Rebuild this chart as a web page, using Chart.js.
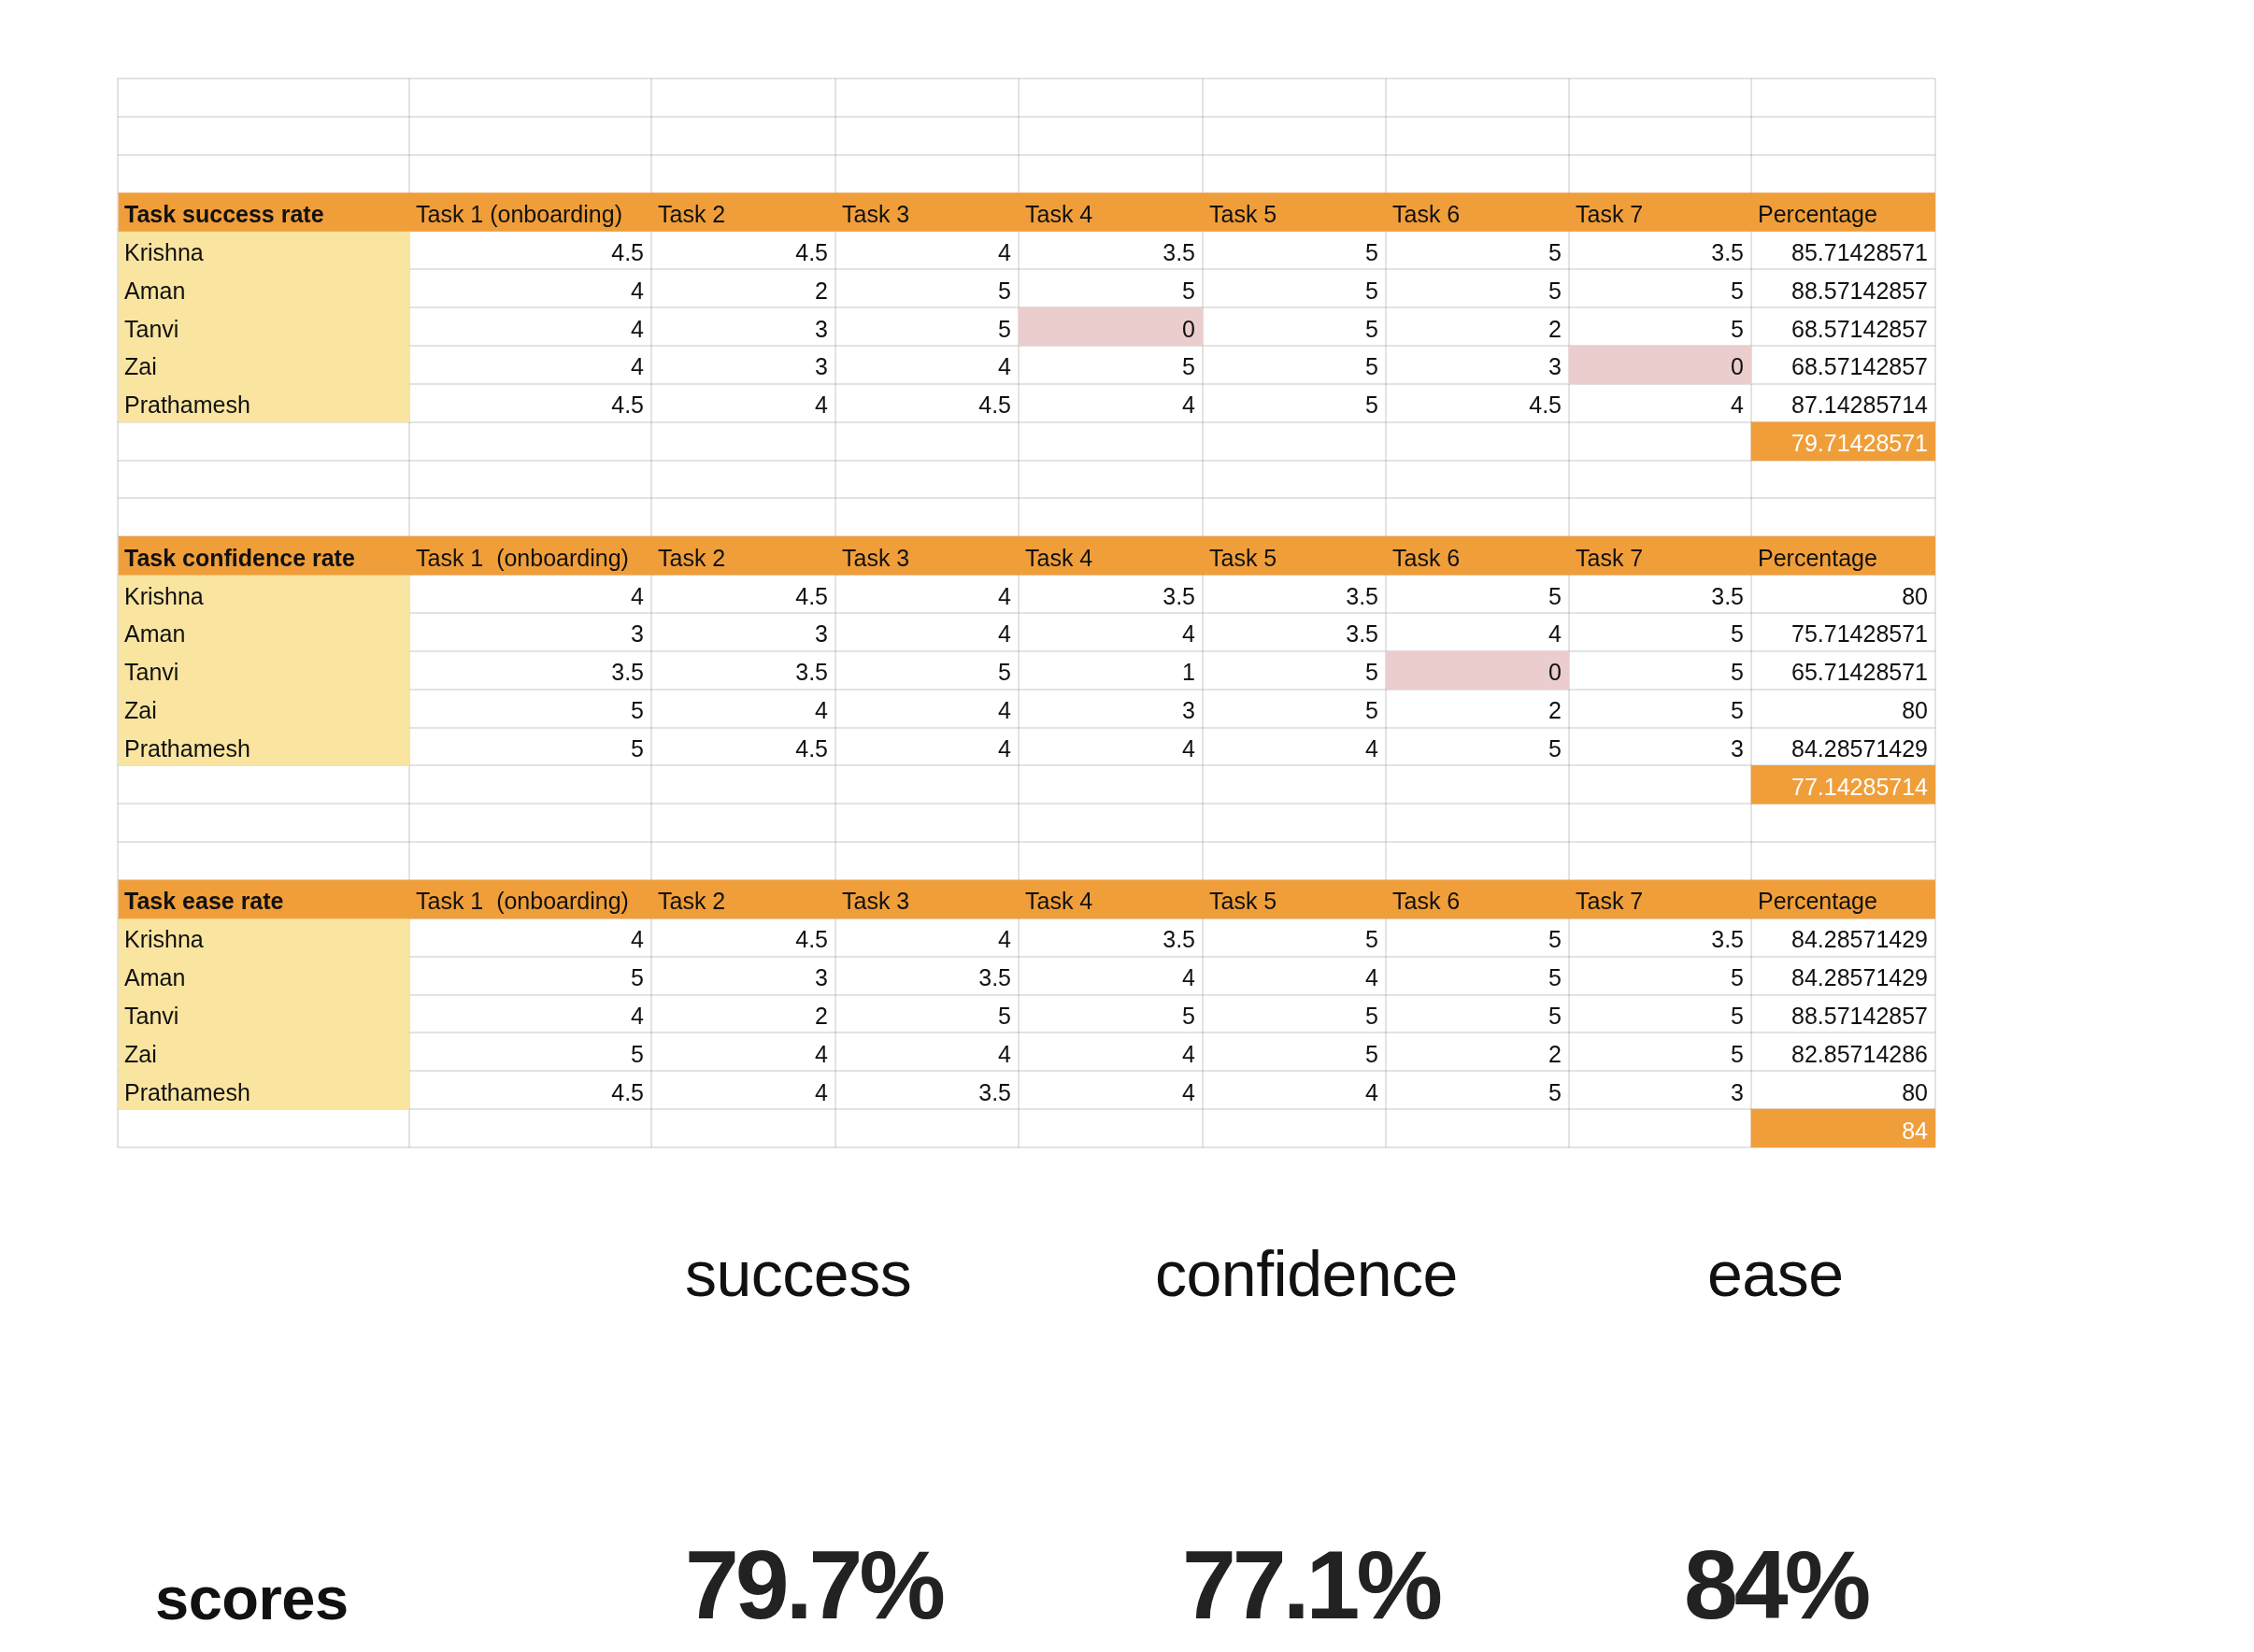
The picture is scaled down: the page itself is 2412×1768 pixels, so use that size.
<!DOCTYPE html>
<html>
<head>
<meta charset="utf-8">
<title>Task rates</title>
<script src="https://cdn.jsdelivr.net/npm/chart.js@4.4.1/dist/chart.umd.min.js"></script>
<style>
  html, body { margin: 0; padding: 0; background: #fff; }
  #wrap { width: 2412px; height: 1768px; position: relative; }
</style>
</head>
<body>
<div id="wrap"><canvas id="chart"></canvas></div>
<script>
// values
var participants = ['Krishna', 'Aman', 'Tanvi', 'Zai', 'Prathamesh'];
var tableTitles = ['Task success rate', 'Task confidence rate', 'Task ease rate'];
var successTaskLabels = ['Task 1 (onboarding)', 'Task 2', 'Task 3', 'Task 4', 'Task 5', 'Task 6', 'Task 7'];
var otherTaskLabels = ['Task 1  (onboarding)', 'Task 2', 'Task 3', 'Task 4', 'Task 5', 'Task 6', 'Task 7'];
var lastHeader = 'Percentage';

var successScores = [
  [4.5, 4.5, 4, 3.5, 5, 5, 3.5],
  [4, 2, 5, 5, 5, 5, 5],
  [4, 3, 5, 0, 5, 2, 5],
  [4, 3, 4, 5, 5, 3, 0],
  [4.5, 4, 4.5, 4, 5, 4.5, 4]
];
var successPct = [85.71428571, 88.57142857, 68.57142857, 68.57142857, 87.14285714];
var successAvg = 79.71428571;

var confidenceScores = [
  [4, 4.5, 4, 3.5, 3.5, 5, 3.5],
  [3, 3, 4, 4, 3.5, 4, 5],
  [3.5, 3.5, 5, 1, 5, 0, 5],
  [5, 4, 4, 3, 5, 2, 5],
  [5, 4.5, 4, 4, 4, 5, 3]
];
var confidencePct = [80, 75.71428571, 65.71428571, 80, 84.28571429];
var confidenceAvg = 77.14285714;

var easeScores = [
  [4, 4.5, 4, 3.5, 5, 5, 3.5],
  [5, 3, 3.5, 4, 4, 5, 5],
  [4, 2, 5, 5, 5, 5, 5],
  [5, 4, 4, 4, 5, 2, 5],
  [4.5, 4, 3.5, 4, 4, 5, 3]
];
var easePct = [84.28571429, 84.28571429, 88.57142857, 82.85714286, 80];
var easeAvg = 84;

var scoreLabels = ['success', 'confidence', 'ease'];
var scoreValues = ['79.7%', '77.1%', '84%'];
var scoresTitle = 'scores';

// layout of the sheet (x units = px from table left)
var colEdges = [0, 312, 571, 768, 964, 1161, 1357, 1553, 1748, 1945];
var blankBefore = [3, 2, 2];
var ORANGE = '#F09E3A', YELLOW = '#F9E4A0', PINK = '#EBCDCD';
var CELL_FONT = '"Liberation Sans", Arial, sans-serif';

var tables = [
  { title: tableTitles[0], heads: successTaskLabels, scores: successScores, pct: successPct, avg: successAvg },
  { title: tableTitles[1], heads: otherTaskLabels, scores: confidenceScores, pct: confidencePct, avg: confidenceAvg },
  { title: tableTitles[2], heads: otherTaskLabels, scores: easeScores, pct: easePct, avg: easeAvg }
];

// one entry per sheet row
var rows = [];
tables.forEach(function (t, ti) {
  for (var b = 0; b < blankBefore[ti]; b++) rows.push({ type: 'blank' });
  rows.push({ type: 'head', t: t });
  for (var p = 0; p < participants.length; p++) rows.push({ type: 'data', t: t, p: p });
  rows.push({ type: 'avg', t: t });
});
var rowKeys = rows.map(function (r, i) { return 'r' + i; });
var lastEdge = colEdges[colEdges.length - 1];

var headerFill = rows.map(function (r) { return r.type === 'head' ? [0, lastEdge] : null; });
var nameFill = rows.map(function (r) { return r.type === 'data' ? [0, colEdges[1]] : null; });
var avgFill = rows.map(function (r) { return r.type === 'avg' ? [colEdges[8], colEdges[9]] : null; });

var datasets = [
  { data: headerFill, backgroundColor: ORANGE },
  { data: nameFill, backgroundColor: YELLOW },
  { data: avgFill, backgroundColor: ORANGE }
];
// zero scores get a pink cell, one dataset per task column
for (var c = 0; c < 7; c++) {
  (function (c) {
    datasets.push({
      data: rows.map(function (r) {
        return r.type === 'data' && r.t.scores[r.p][c] === 0 ? [colEdges[c + 1], colEdges[c + 2]] : null;
      }),
      backgroundColor: PINK
    });
  })(c);
}
datasets.forEach(function (d) {
  d.barPercentage = 1;
  d.categoryPercentage = 1;
  d.grouped = false;
  d.borderWidth = 0;
});

function txt(ctx, s, x, y, align, font, color, spacing) {
  ctx.font = font;
  ctx.textAlign = align;
  ctx.fillStyle = color;
  ctx.letterSpacing = spacing || '0px';
  ctx.fillText(s, x, y);
}

var cellText = {
  id: 'cellText',
  afterDraw: function (chart) {
    var ctx = chart.ctx;
    var xs = chart.scales.x, ys = chart.scales.y;
    var fs = 25;
    ctx.save();
    ctx.textBaseline = 'alphabetic';
    rows.forEach(function (r, i) {
      var y = ys.getPixelForValue(i) + fs * 0.36 + 2;
      function left(col, s, bold, color) {
        txt(ctx, s, xs.getPixelForValue(colEdges[col]) + 7, y, 'left', (bold ? 'bold ' : '') + fs + 'px ' + CELL_FONT, color || '#111');
      }
      function right(col, s, color) {
        txt(ctx, s, xs.getPixelForValue(colEdges[col + 1]) - 8, y, 'right', fs + 'px ' + CELL_FONT, color || '#111');
      }
      if (r.type === 'head') {
        left(0, r.t.title, true);
        r.t.heads.forEach(function (h, k) { left(k + 1, h, false); });
        left(8, lastHeader, false);
      } else if (r.type === 'data') {
        left(0, participants[r.p], false);
        r.t.scores[r.p].forEach(function (v, k) { right(k + 1, String(v)); });
        right(8, String(r.t.pct[r.p]));
      } else if (r.type === 'avg') {
        right(8, String(r.t.avg), '#fff');
      }
    });

    // summary under the sheet
    var labelX = [733, 1236, 1827];
    var valueX = [733, 1265, 1802];
    scoreLabels.forEach(function (s, k) {
      txt(ctx, s, labelX[k], 1387, 'left', '68px ' + CELL_FONT, '#111', '-0.5px');
      txt(ctx, scoreValues[k], valueX[k], 1732, 'left', 'bold 104px ' + CELL_FONT, '#222', '-4px');
    });
    txt(ctx, scoresTitle, 166, 1733, 'left', 'bold 65px ' + CELL_FONT, '#111', '-0.5px');
    ctx.restore();
  }
};

var gridLine = { color: 'rgba(0,0,0,0.11)', lineWidth: 2, drawTicks: false, tickLength: 0 };

new Chart(document.getElementById('chart'), {
  type: 'bar',
  data: { labels: rowKeys, datasets: datasets },
  options: {
    indexAxis: 'y',
    responsive: true,
    maintainAspectRatio: false,
    animation: false,
    events: [],
    layout: { padding: { left: 126, top: 84, right: 341, bottom: 540 } },
    plugins: { legend: { display: false }, tooltip: { enabled: false } },
    scales: {
      x: {
        type: 'linear',
        min: 0,
        max: lastEdge,
        z: 1,
        grid: gridLine,
        border: { display: false },
        ticks: { display: false },
        afterBuildTicks: function (axis) {
          axis.ticks = colEdges.map(function (v) { return { value: v }; });
        }
      },
      y: {
        type: 'category',
        offset: true,
        z: 1,
        grid: Object.assign({ offset: true }, gridLine),
        border: { display: false },
        ticks: { display: false }
      }
    }
  },
  plugins: [cellText]
});
</script>
</body>
</html>
